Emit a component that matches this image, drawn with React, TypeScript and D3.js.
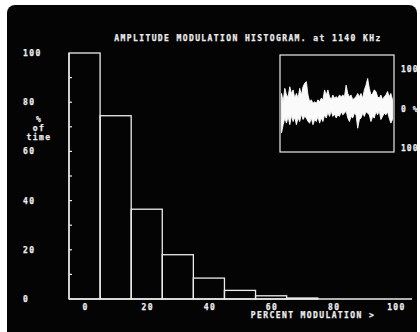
import React from "react";
import * as d3 from "d3";

const title = "AMPLITUDE MODULATION HISTOGRAM. at 1140 KHz";
const binCenters = [0, 10, 20, 30, 40, 50, 60, 70];
const percentOfTime = [100, 74.5, 36.5, 18, 8.5, 3.5, 1.3, 0.4];
const yTicks = [0, 20, 40, 60, 80, 100];
const yMinorTicks = [10, 20, 30, 40, 50, 60, 70, 80, 90];
const xTicks = [0, 20, 40, 60, 80, 100];
const xLabel = "PERCENT MODULATION >";
const yLabel = ["%", "of", "time"];
const insetLabels = ["100", "0 %", "100"];

// modulation waveform envelopes (percent), sampled left to right across the inset
const waveUpper = [
  38, 17, 51, 34, 30, 55, 38, 47, 26, 38, 26, 51, 34, 55, 64, 68, 34, 17, 22, 13,
  17, 13, 22, 17, 26, 22, 47, 34, 47, 30, 22, 34, 26,
  30, 26, 34, 30, 34, 30, 59, 38, 30, 34, 22, 26, 30, 38, 30, 38, 26, 47, 59, 76,
  51, 34, 38, 47, 43, 30, 26, 34, 22, 30, 34, 43, 30, 38, 22,
];
const waveLower = [
  -62, -41, -24, -37, -20, -41, -18, -33, -22, -41, -24, -33, -14, -28, -20, -24, -33, -37, -24, -41,
  -28, -33, -20, -37, -24, -33, -16, -24, -10, -20, -6, -20, -14,
  -24, -16, -20, -8, -16, -12, -6, -24, -33, -20, -24, -12, -16, -50, -28, -24, -12, -20, -8, -12,
  -16, -33, -20, -24, -8, -16, -6, -28, -20, -12, -16, -8, -24, -37, -28,
];

const W = 420;
const H = 332;
const FG = "#ececec";
const FONT = "'DejaVu Sans Mono', monospace";

export default function App() {
  const x = d3.scaleLinear().domain([-5, 105]).range([69, 411]);
  const y = d3.scaleLinear().domain([0, 100]).range([299, 53]);

  const ix = d3.scaleLinear().domain([0, waveUpper.length - 1]).range([281.5, 392.5]);
  const iy = d3.scaleLinear().domain([-100, 100]).range([148, 69]);
  const area = d3
    .area<number>()
    .x((_, i) => ix(i))
    .y0((_, i) => iy(waveLower[i]))
    .y1((d) => iy(d));

  const txt = {
    fill: FG,
    stroke: FG,
    strokeWidth: 0.25,
    fontFamily: FONT,
    fontSize: 8,
    fontWeight: "bold" as const,
    letterSpacing: 1.4,
  };
  const txtR = { ...txt, letterSpacing: 1 };

  return (
    <svg
      width={W}
      height={H}
      style={{ position: "fixed", left: 0, top: 0, background: "#fff" }}
    >
      <rect x={7} y={5} width={410} height={340} rx={8} fill="#040404" />

      <text {...txt} x={248} y={41} textAnchor="middle">
        {title}
      </text>

      {/* y tick labels */}
      {yTicks.map((t) => (
        <text key={t} {...txt} x={23} y={y(t) + 3}>
          {t}
        </text>
      ))}
      {yLabel.map((s, i) => (
        <text key={s} {...txt} x={39} y={121.5 + i * 9} textAnchor="middle">
          {s}
        </text>
      ))}

      {/* bars */}
      {binCenters.map((c, i) => (
        <rect
          key={c}
          x={x(c - 5)}
          y={y(percentOfTime[i])}
          width={x(c + 5) - x(c - 5)}
          height={y(0) - y(percentOfTime[i])}
          fill="none"
          stroke={FG}
          strokeWidth={1.3}
        />
      ))}

      {/* axes */}
      <line x1={69} x2={69} y1={y(100)} y2={y(0)} stroke={FG} strokeWidth={1.3} />
      <line x1={69} x2={412} y1={y(0)} y2={y(0)} stroke={FG} strokeWidth={1.3} />
      {yMinorTicks.map((t) => (
        <line key={t} x1={69} x2={72} y1={y(t)} y2={y(t)} stroke={FG} strokeWidth={1.2} />
      ))}

      {xTicks.map((t) => (
        <text key={t} {...txt} x={x(t) + 1} y={309.5} textAnchor="middle">
          {t}
        </text>
      ))}
      <text {...txt} x={313} y={318} textAnchor="middle">
        {xLabel}
      </text>

      {/* inset */}
      <rect x={280} y={55} width={114} height={97} fill="none" stroke={FG} strokeWidth={1.2} />
      <path d={area(waveUpper) || ""} fill="#fafafa" stroke="#fafafa" strokeWidth={0.9} />
      <text {...txtR} x={401} y={iy(100) + 3}>
        {insetLabels[0]}
      </text>
      <text {...txtR} x={401} y={iy(0) + 3}>
        {insetLabels[1]}
      </text>
      <text {...txtR} x={401} y={iy(-100) + 3}>
        {insetLabels[2]}
      </text>
    </svg>
  );
}
